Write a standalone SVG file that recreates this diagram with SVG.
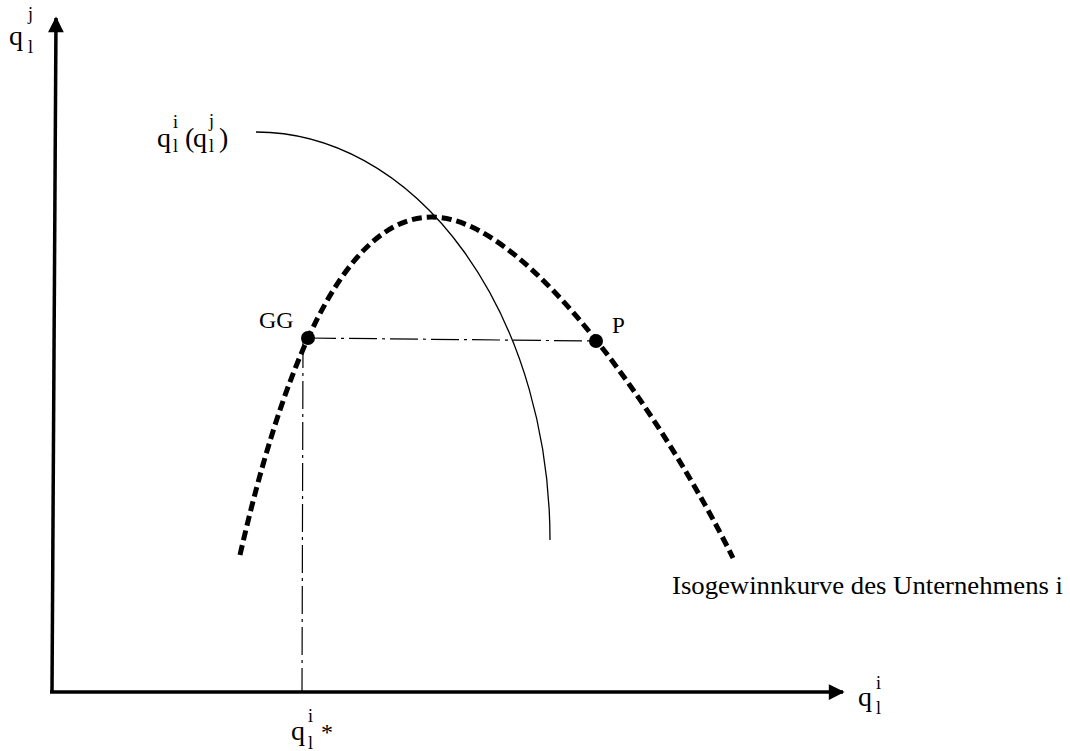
<svg xmlns="http://www.w3.org/2000/svg" width="1070" height="751" viewBox="0 0 1070 751">
<style>
.t{font-family:"Liberation Serif","Times New Roman",serif;fill:#000}
.q{font-size:28px}
.s{font-size:18px}
.axis{stroke:#000;stroke-width:3.5;fill:none}
.dd{stroke:#000;stroke-width:1.2;fill:none;stroke-dasharray:28,5,3,5}
</style>
<defs>
<marker id="ah" viewBox="0 0 10 10" refX="9" refY="5" markerWidth="5" markerHeight="4.5" orient="auto" markerUnits="strokeWidth">
<path d="M0,0 L10,5 L0,10 z" fill="#000"/>
</marker>
</defs>
<rect width="1070" height="751" fill="#fff"/>
<g id="connectors">
<line class="axis" x1="52" y1="692" x2="56" y2="18" marker-end="url(#ah)"/>
<line class="axis" x1="50" y1="692" x2="843" y2="692" marker-end="url(#ah)"/>
<path id="reaction" d="M256,132 A294,408 0 0 1 550,540" fill="none" stroke="#000" stroke-width="1.3"/>
<path id="isogewinn" d="M240,555 C280,380 340,217 432,217 C530,217 670,430 733,558" fill="none" stroke="#000" stroke-width="5" stroke-dasharray="10,5"/>
<line class="dd" x1="308" y1="338" x2="596" y2="341"/>
<line class="dd" x1="303" y1="340" x2="302" y2="692"/>
</g>
<g id="GG">
<circle cx="308" cy="338" r="7" fill="#000"/>
<text class="t" x="259" y="328" font-size="24">GG</text>
</g>
<g id="P">
<circle cx="596" cy="341" r="7" fill="#000"/>
<text class="t" x="612" y="333" font-size="23">P</text>
</g>
<g id="ylabel">
<text class="t q" x="9" y="45">q</text>
<text class="t s" x="28" y="20">j</text>
<text class="t s" x="28" y="53">l</text>
</g>
<g id="xlabel">
<text class="t q" x="858" y="706">q</text>
<text class="t s" x="876" y="689">i</text>
<text class="t s" x="876" y="714">l</text>
</g>
<g id="reactionlabel">
<text class="t q" x="157" y="147">q</text>
<text class="t s" x="173" y="128">i</text>
<text class="t s" x="173" y="152">l</text>
<text class="t" x="185" y="147" font-size="28">(</text>
<text class="t q" x="193" y="147">q</text>
<text class="t s" x="209" y="127">j</text>
<text class="t s" x="209" y="152">l</text>
<text class="t" x="219" y="147" font-size="28">)</text>
</g>
<g id="qstar">
<text class="t q" x="291" y="740">q</text>
<text class="t s" x="308" y="722">i</text>
<text class="t s" x="308" y="749">l</text>
<text class="t" x="321" y="740" font-size="24">*</text>
</g>
<g id="isolabel">
<text class="t" x="672" y="594" font-size="25" textLength="391" lengthAdjust="spacingAndGlyphs">Isogewinnkurve des Unternehmens i</text>
</g>
</svg>
